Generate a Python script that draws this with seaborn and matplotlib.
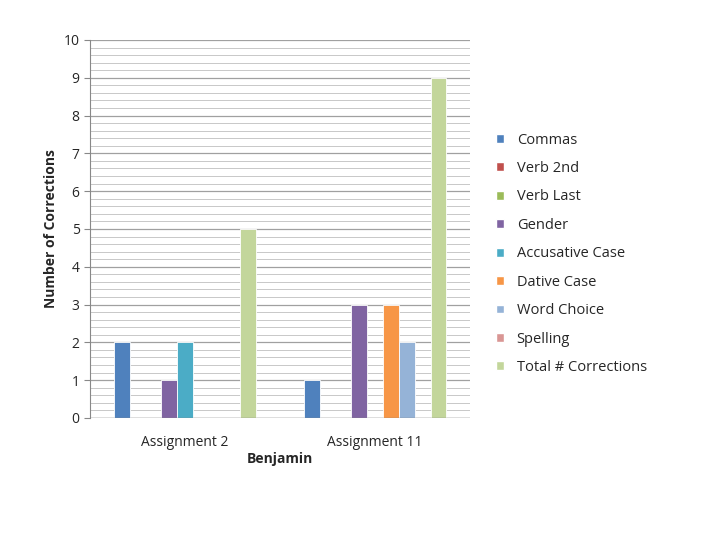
import matplotlib
matplotlib.use("Agg")
import matplotlib.pyplot as plt
import seaborn as sns
import pandas as pd
import numpy as np
from matplotlib.patches import Patch

assignments = ["Assignment 2", "Assignment 11"]
categories = ["Commas", "Verb 2nd", "Verb Last", "Gender", "Accusative Case",
              "Dative Case", "Word Choice", "Spelling", "Total # Corrections"]
values_a2 = [2, 0, 0, 1, 2, 0, 0, 0, 5]
values_a11 = [1, 0, 0, 3, 0, 3, 2, 0, 9]
colors = ["#4F81BD", "#C0504D", "#9BBB59", "#8064A2", "#4BACC6",
          "#F79646", "#95B3D7", "#D99694", "#C3D69B"]

rows = []
for a, vals in zip(assignments, [values_a2, values_a11]):
    for c, v in zip(categories, vals):
        rows.append({"Assignment": a, "Category": c, "Value": v})
df = pd.DataFrame(rows)

sns.set_style("white")
plt.rcParams['font.family'] = ['Open Sans', 'DejaVu Sans']

fig = plt.figure(figsize=(7.2, 5.4), dpi=100)
ax = fig.add_axes([0.125, 0.226, 0.528, 0.700])
sns.barplot(data=df, x="Assignment", y="Value", hue="Category", hue_order=categories,
            palette=colors, saturation=1, width=0.75, ax=ax, legend=False,
            edgecolor="white", linewidth=0.6)

ax.set_ylim(0, 10)
ax.set_xlim(-0.5, 1.5)
ax.set_yticks(range(0, 11))
ax.set_yticks(np.arange(0, 10.01, 0.2), minor=True)
ax.yaxis.grid(True, which="major", color="#A0A0A0", linewidth=0.9)
ax.yaxis.grid(True, which="minor", color="#C8C8C8", linewidth=0.7)
ax.set_axisbelow(True)
for s in ["top", "right", "bottom"]:
    ax.spines[s].set_visible(False)
ax.spines["left"].set_color("#888888")
ax.axhline(0, color="#888888", linewidth=1)
ax.tick_params(axis="y", which="major", length=4, color="#888888", labelsize=10, left=True)
ax.tick_params(axis="y", which="minor", length=0)
ax.tick_params(axis="x", length=0, labelsize=10, pad=12)
ax.set_ylabel("Number of Corrections", fontsize=10, fontweight="bold")
ax.set_xlabel("Benjamin", fontsize=10, fontweight="bold", labelpad=2)

handles = [Patch(facecolor=c, label=l) for c, l in zip(colors, categories)]
fig.legend(handles=handles, loc="center left", bbox_to_anchor=(0.67, 0.53),
           frameon=False, fontsize=10.5, handlelength=0.55, handleheight=0.55,
           labelspacing=0.92, handletextpad=0.9)

fig.savefig("out.png", dpi=100)
